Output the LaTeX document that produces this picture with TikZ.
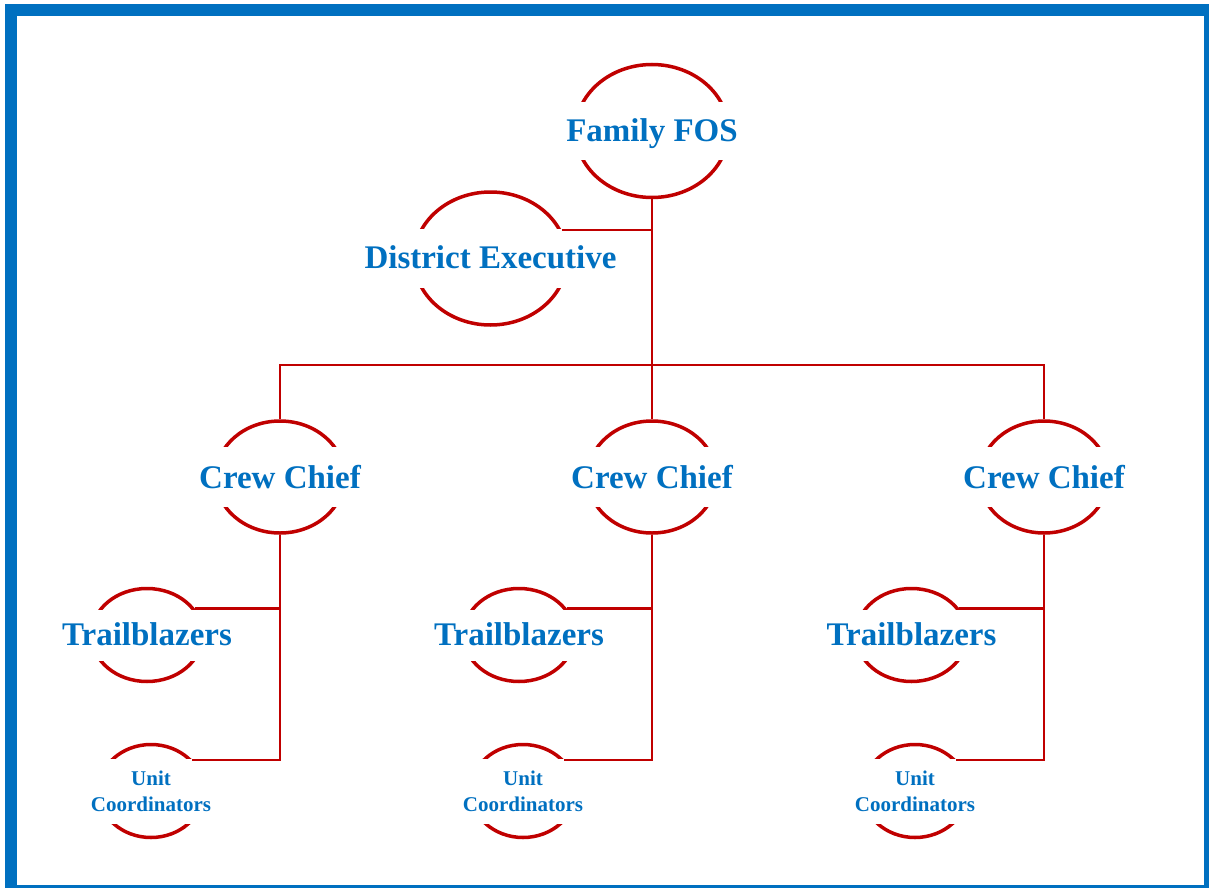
\documentclass[tikz,border=0pt]{standalone}
\usepackage{fontspec}
\setmainfont{Liberation Serif}
\usepackage{tikz}
\usetikzlibrary{calc}
\usetikzlibrary{shapes.geometric}
\definecolor{orgred}{RGB}{192,0,0}
\definecolor{orgblue}{RGB}{0,112,192}
\newcommand{\rolenode}[4]{%
    \node[rolering-#3] (#1) at (#2) {};
    \node[rolelabel-#3] (#1-label) at (#2) {#4};
}
\tikzset{
    rolering/.style={draw=orgred, line width=1.75pt, ellipse, inner sep=0pt},
    rolering-big/.style={rolering, minimum width=76.5pt, minimum height=66.5pt},
    rolering-crew/.style={rolering, minimum width=64.5pt, minimum height=56pt},
    rolering-trail/.style={rolering, minimum width=55.5pt, minimum height=46.5pt},
    rolering-unit/.style={rolering, minimum width=52.5pt, minimum height=46.5pt},
    rolelabel/.style={fill=white, text=orgblue, font=\bfseries\fontsize{16.5}{18}\selectfont, inner xsep=2pt, inner ysep=0pt},
    rolelabel-big/.style={rolelabel, text height=19.8pt, text depth=9.6pt},
    rolelabel-crew/.style={rolelabel, text height=20.5pt, text depth=9.5pt},
    rolelabel-trail/.style={rolelabel, text height=18pt, text depth=7.5pt},
    rolelabel-unit/.style={rolelabel, font=\bfseries\fontsize{10.5}{13}\selectfont, align=center, minimum height=32.5pt, inner xsep=4pt},
    link/.style={draw=orgred, line width=1.25pt},
    frame/.style={draw=orgblue, line width=6pt}
}

\begin{document}
\begin{tikzpicture}[x=0.5pt, y=-0.5pt]
    \useasboundingbox (0,0) rectangle (1209,888);
    \draw[frame] (11,10) rectangle (1210,891);

    \rolenode{fos}{652,131}{big}{Family FOS}
    \rolenode{de}{490.5,258.5}{big}{District Executive}

    \rolenode{cc1}{280,477}{crew}{Crew Chief}
    \rolenode{cc2}{652,477}{crew}{Crew Chief}
    \rolenode{cc3}{1044,477}{crew}{Crew Chief}

    \rolenode{tb1}{147,635}{trail}{Trailblazers}
    \rolenode{tb2}{519,635}{trail}{Trailblazers}
    \rolenode{tb3}{911.5,635}{trail}{Trailblazers}

    \rolenode{uc1}{151,791}{unit}{Unit\\Coordinators}
    \rolenode{uc2}{523,791}{unit}{Unit\\Coordinators}
    \rolenode{uc3}{915,791}{unit}{Unit\\Coordinators}

    % top of the tree
    \coordinate (bus) at (652,365);
    \draw[link] (fos.south) -- (cc2.north);
    \draw[link] (de.22) -- (de.22 -| fos.south);
    \draw[link] (cc1.north) |- (bus) -| (cc3.north);

    % crews
    \draw[link] (cc1.south) |- (uc1.37);
    \draw[link] (tb1.29) -- (tb1.29 -| cc1.south);
    \draw[link] (cc2.south) |- (uc2.37);
    \draw[link] (tb2.29) -- (tb2.29 -| cc2.south);
    \draw[link] (cc3.south) |- (uc3.37);
    \draw[link] (tb3.29) -- (tb3.29 -| cc3.south);
\end{tikzpicture}
\end{document}
